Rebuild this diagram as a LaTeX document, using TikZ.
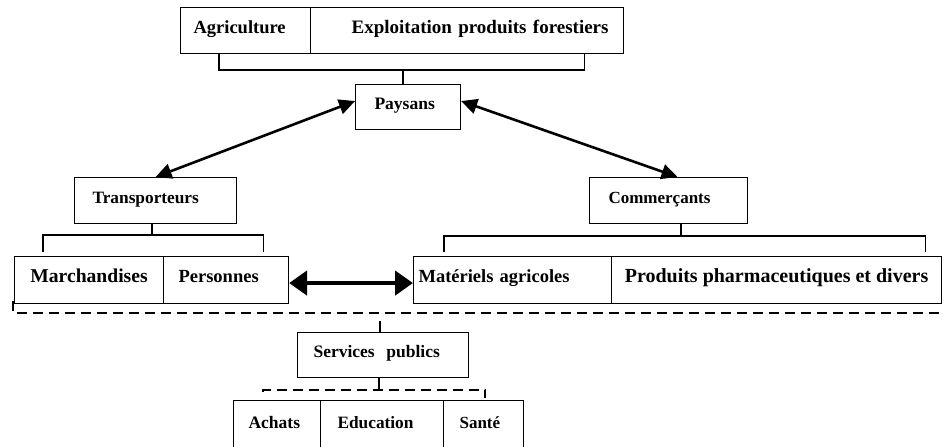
\documentclass[tikz,border=0pt]{standalone}
\usepackage{fontspec}
\setmainfont{Liberation Serif}
\usetikzlibrary{arrows.meta,calc}

\begin{document}
\begin{tikzpicture}[x=1pt,y=-1pt,font=\fontsize{18.5}{21}\selectfont\bfseries,
  box/.style={draw,line width=1.1pt,anchor=north west,inner sep=0pt,minimum height=46pt,
    text height=12pt,text depth=7pt},
  pad/.style={align=left,inner xsep=#1},
  fs/.style={font=\fontsize{#1}{#1}\selectfont\bfseries},
  link/.style={line width=1.1pt},
  dashlink/.style={line width=1.3pt,dash pattern=on 10pt off 6pt},
  flow/.style={line width=2.6pt,{Triangle[length=16pt,width=15pt]}-{Triangle[length=16pt,width=15pt]}},
  bigflow/.style={line width=4.5pt,{Triangle[length=18pt,width=24pt]}-{Triangle[length=18pt,width=24pt]}}]
\clip (0,0) rectangle (943,447);
% activites des paysans
\node[box,pad=13pt,text width=104pt] (agri) at (180,7) {Agriculture};
\node[box,fs=19,inner xsep=15pt,text width=283pt,align=right] (expl) at (310,7) {Exploitation produits forestiers};
\node[box,fs=17.5,pad=19pt,text width=67pt,minimum height=45pt] (pays) at (355,84) {Paysans};
% acteurs
\node[box,fs=17.3,pad=18pt,text width=126pt] (trans) at (74,177) {Transporteurs};
\node[box,fs=17,pad=19pt,text width=120pt] (comm) at (589,177) {Commerçants};
\node[box,fs=19.6,minimum width=149pt,minimum height=47pt] (march) at (14,256) {Marchandises};
\node[box,pad=15pt,text width=95pt,minimum height=47pt] (pers) at (163,256) {Personnes};
\node[box,pad=5pt,text width=188pt,minimum height=47pt] (mat) at (413,256) {Matériels agricoles};
\node[box,fs=20,minimum width=330pt,minimum height=47pt] (prod) at (611,256) {Produits pharmaceutiques et divers};
% services
\node[box,fs=17.5,pad=16pt,text width=139pt,minimum height=45pt] (serv) at (297,332) {Services\ \ publics};
\node[box,fs=17.5,pad=15pt,text width=57pt,minimum height=50pt] (achat) at (233,400) {Achats};
\node[box,fs=17.3,pad=17pt,text width=89pt,minimum height=50pt] (educ) at (320,400) {Education};
\node[box,fs=17,pad=16pt,text width=48pt,minimum height=50pt] (sante) at (443,400) {Santé};

% accolades
\coordinate (topbar) at (403,70);
\draw[link] ($(agri.south west)+(39,0)$) |- (topbar) -| ($(expl.south east)+(-40,0)$);
\draw[link] (topbar) -- (topbar |- pays.north);
\coordinate (transbar) at (152,235);
\draw[link] (trans.south -| transbar) -- (transbar);
\draw[link] ($(march.north west)+(29,-4)$) |- (transbar) -| ($(pers.north east)+(-26,-4)$);
\coordinate (commbar) at (681,236);
\draw[link] (comm.south -| commbar) -- (commbar);
\draw[link] ($(mat.north west)+(31,-4)$) |- (commbar) -| ($(prod.north east)+(-17,-4)$);

% echanges
\draw[flow] (trans.north) -- ($(pays.west)+(0,-6)$);
\draw[flow] ($(comm.north)+(9,0)$) -- ($(pays.east)+(0,-6)$);
\draw[bigflow] ($(pers.east)+(0,3)$) -- ($(mat.west)+(0,3)$);

% services publics
\coordinate (bus) at (380,313);
\draw[dashlink] ($(march.south west)+(-1,-3)$) |- (943,313);
\draw[link] (380,321) -- (bus |- serv.north);
\coordinate (servbar) at (379,390);
\draw[link] (serv.south -| servbar) -- (servbar);
\draw[dashlink] ($(achat.north west)+(30,-8)$) |- (servbar) -| ($(sante.north east)+(-39,-2)$);
\end{tikzpicture}
\end{document}
